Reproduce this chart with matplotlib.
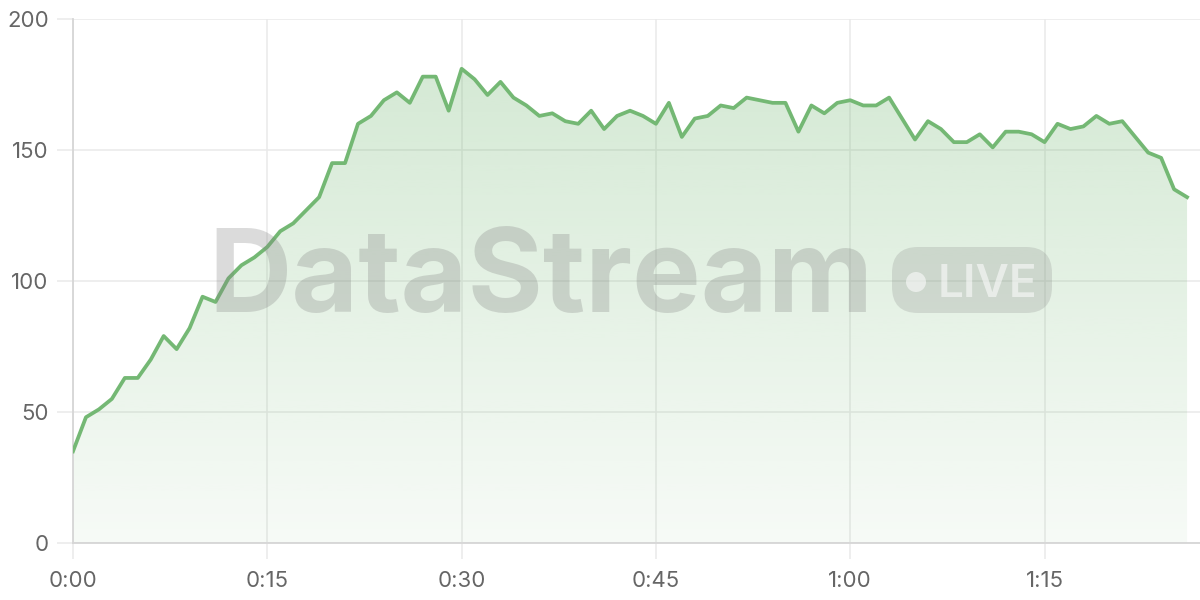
import matplotlib
matplotlib.use("Agg")
import matplotlib.pyplot as plt
import numpy as np
from matplotlib.patches import FancyBboxPatch, Circle

# one reading per minute, 0:00 .. 1:26
minutes = list(range(87))
values = [35, 48, 51, 55, 63, 63, 70, 79, 74, 82,
          94, 92, 101, 106, 109, 113, 119, 122, 127, 132,
          145, 145, 160, 163, 169, 172, 168, 178, 178, 165,
          181, 177, 171, 176, 170, 167, 163, 164, 161, 160,
          165, 158, 163, 165, 163, 160, 168, 155, 162, 163,
          167, 166, 170, 169, 168, 168, 157, 167, 164, 168,
          169, 167, 167, 170, 162, 154, 161, 158, 153, 153,
          156, 151, 157, 157, 156, 153, 160, 158, 159, 163,
          160, 161, 155, 149, 147, 135, 132]
x_ticks = [0, 15, 30, 45, 60, 75]
x_labels = ["0:00", "0:15", "0:30", "0:45", "1:00", "1:15"]
y_ticks = [0, 50, 100, 150, 200]

line_color = "#74b874"
grid_color = "#e9e9e9"
text_color = "#666666"

plt.rcParams["font.family"] = ["Inter", "DejaVu Sans"]

fig = plt.figure(figsize=(12, 6), dpi=100)
ax = fig.add_axes([73 / 1200, 57 / 600, 1127 / 1200, 524 / 600])
ax.set_xlim(0, 87)
ax.set_ylim(0, 200)

# gradient fill under the line, strong at the top, fading to the bottom
poly = ax.fill_between(minutes, values, 0, color="none", lw=0)
grad = np.zeros((256, 1, 4))
grad[:, 0, 0:3] = matplotlib.colors.to_rgb(line_color)
grad[:, 0, 3] = np.linspace(0.33, 0.06, 256)
img = ax.imshow(grad, extent=[0, 87, 0, 200], aspect="auto", origin="upper", zorder=1)
img.set_clip_path(poly.get_paths()[0], transform=ax.transData)

ax.plot(minutes, values, color=line_color, lw=2.7, zorder=3)

ax.set_xticks(x_ticks)
ax.set_xticklabels(x_labels)
ax.set_yticks(y_ticks)
ax.grid(True, color=grid_color, lw=1.1, zorder=0)
ax.set_axisbelow(True)
ax.tick_params(axis="both", colors=grid_color, labelcolor=text_color, labelsize=16,
               length=11.5, width=1.1)
ax.tick_params(axis="x", pad=9)
ax.tick_params(axis="y", pad=6)
for side in ["top", "right"]:
    ax.spines[side].set_visible(False)
for side in ["left", "bottom"]:
    ax.spines[side].set_color("#d6d6d6")
    ax.spines[side].set_linewidth(1.3)

# watermark (positions in inches, figure is 12 x 6 in at 100 dpi)
inch = fig.dpi_scale_trans
fig.text(2.08, 6 - 3.12, "DataStream", transform=inch, fontsize=83, fontweight="bold",
         color="#7f7f7f", alpha=0.28, ha="left", va="baseline", zorder=5)
badge = FancyBboxPatch((8.92, 6 - 3.13), 1.60, 0.66,
                       boxstyle="round,pad=0,rounding_size=0.26",
                       transform=inch, facecolor="#7f7f7f", alpha=0.22,
                       edgecolor="none", zorder=5)
fig.patches.append(badge)
fig.patches.append(Circle((9.16, 6 - 2.82), 0.10, transform=inch,
                          facecolor="white", alpha=0.55, edgecolor="none", zorder=6))
fig.text(9.38, 6 - 2.97, "LIVE", transform=inch, fontsize=33, fontweight="semibold",
         color="white", alpha=0.55, ha="left", va="baseline", zorder=6)

fig.savefig("out.png", dpi=100)
